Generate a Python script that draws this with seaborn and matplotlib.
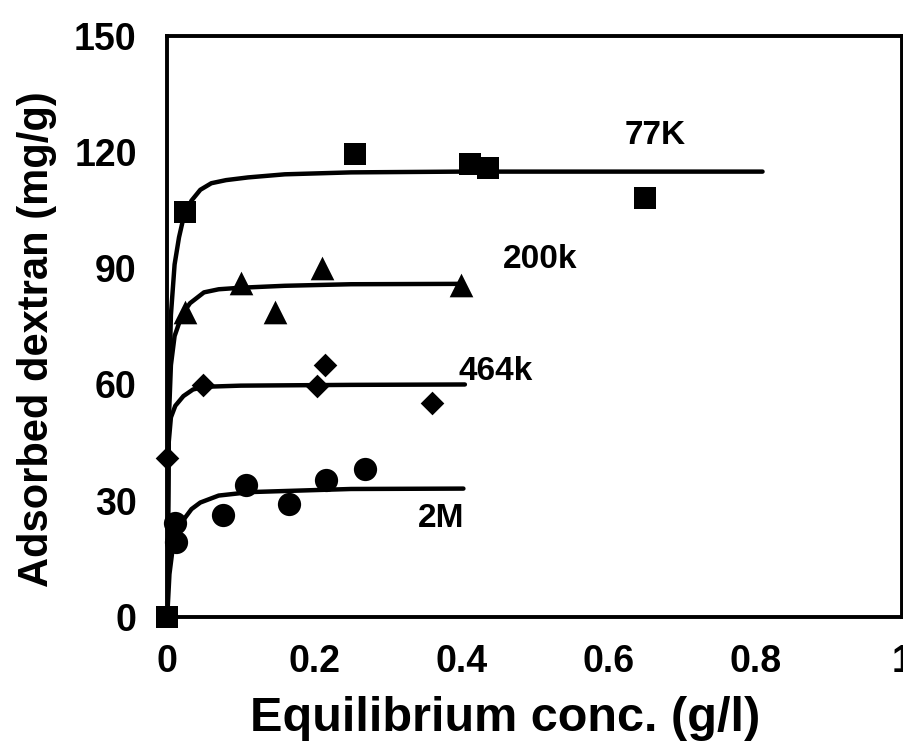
import numpy as np
import pandas as pd
import matplotlib
matplotlib.use("Agg")
import matplotlib.pyplot as plt
import seaborn as sns

sns.set_theme(style="white")
plt.rcParams['font.family'] = ['Liberation Sans', 'DejaVu Sans']
plt.rcParams['font.weight'] = 'bold'
plt.rcParams['text.color'] = 'black'
plt.rcParams['axes.labelcolor'] = 'black'
plt.rcParams['xtick.color'] = 'black'
plt.rcParams['ytick.color'] = 'black'

# measured points
x_77k = [0.0, 0.024, 0.256, 0.412, 0.437, 0.650]
y_77k = [0.0, 104.5, 119.5, 117.0, 116.0, 108.2]
x_200k = [0.024, 0.100, 0.147, 0.211, 0.400]
y_200k = [78.6, 86.2, 78.6, 90.0, 85.6]
x_464k = [0.0, 0.049, 0.204, 0.215, 0.360]
y_464k = [41.0, 59.8, 59.6, 65.0, 55.2]
x_2m = [0.010, 0.012, 0.076, 0.107, 0.166, 0.216, 0.269]
y_2m = [24.2, 19.3, 26.2, 34.0, 29.2, 35.4, 38.2]

# fitted curves
cx_77k = [0.0, 0.002, 0.005, 0.010, 0.016, 0.022, 0.033, 0.045, 0.060, 0.080, 0.110, 0.160, 0.250, 0.400, 0.810]
cy_77k = [0.0, 55.0, 78.0, 91.0, 98.0, 103.0, 107.5, 110.3, 112.0, 112.8, 113.5, 114.3, 114.8, 115.0, 115.0]
cx_200k = [0.0, 0.002, 0.005, 0.010, 0.020, 0.031, 0.050, 0.070, 0.100, 0.160, 0.250, 0.400]
cy_200k = [0.0, 50.0, 65.0, 72.5, 78.0, 81.0, 83.8, 84.6, 85.0, 85.5, 85.9, 86.0]
cx_464k = [0.0, 0.002, 0.005, 0.011, 0.022, 0.035, 0.050, 0.100, 0.250, 0.405]
cy_464k = [0.0, 45.0, 51.5, 54.5, 57.0, 58.7, 59.4, 59.7, 59.9, 60.0]
cx_2m = [0.0, 0.003, 0.007, 0.013, 0.022, 0.033, 0.045, 0.070, 0.113, 0.250, 0.403]
cy_2m = [0.0, 11.0, 17.0, 21.0, 25.0, 27.8, 29.5, 31.3, 32.2, 33.0, 33.1]

labels = ["77K", "200k", "464k", "2M"]
label_x = [0.623, 0.456, 0.396, 0.341]
label_y = [124.4, 92.3, 63.3, 25.3]

fig = plt.figure(figsize=(9.04, 7.53), dpi=100)
ax = fig.add_axes([0.185, 0.181, 0.813, 0.771])

k = dict(color="black", linewidth=3.2, ax=ax, sort=False, estimator=None)
sns.lineplot(x=cx_77k, y=cy_77k, **k)
sns.lineplot(x=cx_200k, y=cy_200k, **k)
sns.lineplot(x=cx_464k, y=cy_464k, **k)
sns.lineplot(x=cx_2m, y=cy_2m, **k)

m = dict(color="black", edgecolor="black", linewidth=0, ax=ax, clip_on=False, zorder=5)
sns.scatterplot(x=x_77k, y=y_77k, marker="s", s=250, **m)
sns.scatterplot(x=x_200k, y=y_200k, marker="^", s=290, **m)
sns.scatterplot(x=x_464k, y=y_464k, marker="D", s=145, **m)
sns.scatterplot(x=x_2m, y=y_2m, marker="o", s=280, **m)

for t, lx, ly in zip(labels, label_x, label_y):
    ax.text(lx, ly, t, fontsize=24, fontweight="bold", ha="left", va="center", color="black")

ax.set_xlim(0, 1)
ax.set_ylim(0, 150)
ax.set_xticks([0, 0.2, 0.4, 0.6, 0.8, 1.0])
ax.set_xticklabels(["0", "0.2", "0.4", "0.6", "0.8", "1"])
ax.set_yticks([0, 30, 60, 90, 120, 150])
ax.tick_params(axis="both", direction="in", length=7, width=2.5, labelsize=27, colors="black")
ax.tick_params(axis="y", pad=22)
ax.tick_params(axis="x", pad=20)
for lab in ax.get_xticklabels() + ax.get_yticklabels():
    lab.set_fontweight("bold")
for sp in ax.spines.values():
    sp.set_visible(True)
    sp.set_color("black")
    sp.set_linewidth(2.8)

ax.set_xlabel("Equilibrium conc. (g/l)", fontsize=35, fontweight="bold")
ax.set_ylabel("Adsorbed dextran (mg/g)", fontsize=30, fontweight="bold")
ax.xaxis.set_label_coords(0.46, -0.136)
ax.yaxis.set_label_coords(-0.15, 0.478)

fig.savefig("out.png", dpi=100, facecolor="white")
